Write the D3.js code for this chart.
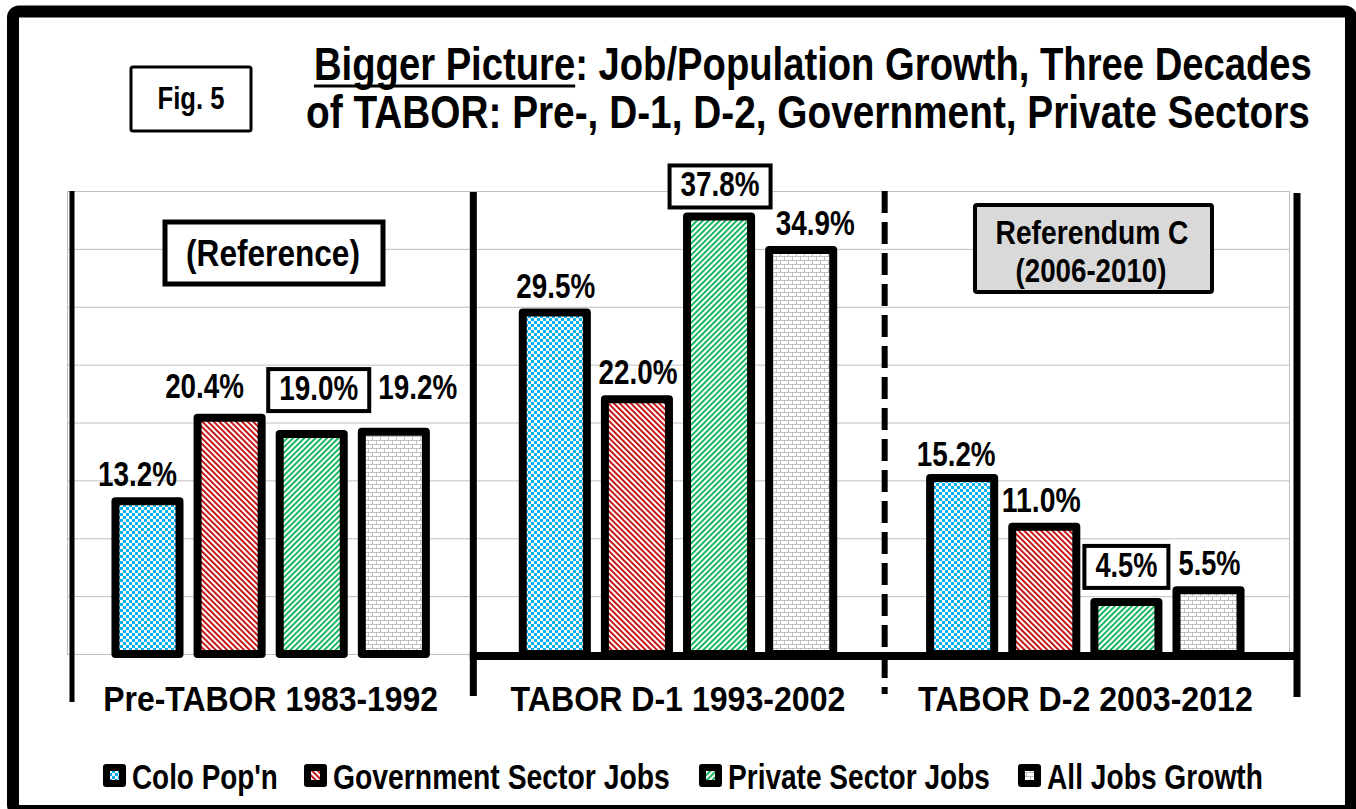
<!DOCTYPE html>
<html>
<head>
<meta charset="utf-8">
<title>Fig. 5 - Bigger Picture</title>
<script src="https://d3js.org/d3.v7.min.js"></script>
<style>
  html, body { margin: 0; padding: 0; background: #fff; }
  svg text { font-family: "Liberation Sans", Arial, sans-serif; font-weight: bold; fill: #000; }
</style>
</head>
<body>
<svg width="1356" height="809"></svg>
<script>
// ---- data ----
var groups = ["Pre-TABOR 1983-1992", "TABOR D-1 1993-2002", "TABOR D-2 2003-2012"];
var series = ["Colo Pop'n", "Government Sector Jobs", "Private Sector Jobs", "All Jobs Growth"];
var coloPop = [13.2, 29.5, 15.2];
var govJobs = [20.4, 22.0, 11.0];
var privJobs = [19.0, 37.8, 4.5];
var allJobs = [19.2, 34.9, 5.5];
var yTicks = [0, 5, 10, 15, 20, 25, 30, 35, 40];

// label nudges (Excel labels were hand placed)
var labelDx = [[-10, -25, 7, 24], [1, 1, 1, 14], [-6, -3, 0, 1]];
var labelDy = [[0, -5, -19, -18], [0, 0, -5, 0], [3, 0, -10, 0]];

var values = [coloPop, govJobs, privJobs, allJobs];
var rows = [];
groups.forEach(function (g, gi) {
    series.forEach(function (s, si) {
        rows.push({group: g, gi: gi, series: s, si: si, value: values[si][gi]});
    });
});

var svg = d3.select("svg");
var plotL = 67, plotR = 1289, plotT = 191, plotB = 654;

var x0 = d3.scaleBand().domain(groups).range([plotL, plotR]).padding(0);
var x1 = d3.scaleBand().domain(series).range([0, x0.bandwidth()])
    .paddingInner(0.22).paddingOuter(0.59);
var y = d3.scaleLinear().domain([0, 40]).range([plotB, plotT]);

// the original uses a narrow bold face: squeeze text horizontally to a width
function fit(sel, w) {
    sel.each(function (d, i) {
        var target = typeof w === "function" ? w(d, i) : w;
        var t = d3.select(this);
        var nat = this.getComputedTextLength();
        var s = nat > target ? target / nat : 1;
        var tx = +t.attr("x"), ty = +t.attr("y");
        t.attr("x", 0).attr("y", 0)
            .attr("transform", "translate(" + tx + "," + ty + ") scale(" + s + ",1)");
        this.__scale = s;
        this.__x = tx;
    });
    return sel;
}

// ---- patterns ----
var defs = svg.append("defs");
var colors = ["#00b0f0", "#c00000", "#00b050", "#bfbfbf"];

var p0 = defs.append("pattern").attr("id", "pat0").attr("patternUnits", "userSpaceOnUse")
    .attr("width", 6).attr("height", 6);
p0.append("rect").attr("width", 6).attr("height", 6).attr("fill", colors[0]);
p0.append("rect").attr("x", 0).attr("y", 0).attr("width", 3).attr("height", 3).attr("fill", "#fff");
p0.append("rect").attr("x", 3).attr("y", 3).attr("width", 3).attr("height", 3).attr("fill", "#fff");

function stripes(id, color, angle) {
    var p = defs.append("pattern").attr("id", id).attr("patternUnits", "userSpaceOnUse")
        .attr("width", 4).attr("height", 4)
        .attr("patternTransform", "rotate(" + angle + ")");
    p.append("rect").attr("width", 4).attr("height", 4).attr("fill", "#fff");
    p.append("rect").attr("width", 1.8).attr("height", 4).attr("fill", color);
}
stripes("pat1", colors[1], -45);
stripes("pat2", colors[2], 45);

var p3 = defs.append("pattern").attr("id", "pat3").attr("patternUnits", "userSpaceOnUse")
    .attr("width", 8).attr("height", 8);
p3.append("rect").attr("width", 8).attr("height", 8).attr("fill", "#fff");
p3.append("path")
    .attr("d", "M0,0.5H8M0,4.5H8M0.5,0V4.5M4.5,4.5V8")
    .attr("stroke", colors[3]).attr("stroke-width", 1).attr("fill", "none");

// ---- outer frame ----
svg.append("rect")
    .attr("x", 13).attr("y", 11.5).attr("width", 1338).attr("height", 799.5)
    .attr("rx", 6).attr("fill", "#fff").attr("stroke", "#000").attr("stroke-width", 12);

// ---- title ----
var t1 = svg.append("text").attr("x", 314).attr("y", 80).style("font-size", "47px")
    .text("Bigger Picture: Job/Population Growth, Three Decades");
fit(t1, 998);
var tn = t1.node();
var ul0 = tn.__x + tn.getStartPositionOfChar(0).x * tn.__scale;
var ul1 = tn.__x + tn.getEndPositionOfChar(13).x * tn.__scale;
svg.append("line").attr("x1", ul0).attr("x2", ul1).attr("y1", 86).attr("y2", 86)
    .attr("stroke", "#000").attr("stroke-width", 3);

fit(svg.append("text").attr("x", 306).attr("y", 128).style("font-size", "46px")
    .text("of TABOR: Pre-, D-1, D-2, Government, Private Sectors"), 1004);

// Fig. 5 box
svg.append("rect").attr("x", 131).attr("y", 67).attr("width", 120).attr("height", 64)
    .attr("rx", 2).attr("fill", "#fff").attr("stroke", "#000").attr("stroke-width", 3);
fit(svg.append("text").attr("x", 191).attr("y", 109).attr("text-anchor", "middle")
    .style("font-size", "32px").text("Fig. 5"), 67);

// ---- plot area grid ----
var grid = svg.append("g");
grid.selectAll("line.h").data(yTicks).enter().append("line")
    .attr("x1", plotL).attr("x2", plotR)
    .attr("y1", function (d) { return y(d) + 0.5; }).attr("y2", function (d) { return y(d) + 0.5; })
    .attr("stroke", "#bfbfbf").attr("stroke-width", 1);
grid.selectAll("line.v").data([plotL, plotR]).enter().append("line")
    .attr("x1", function (d) { return d + 0.5; }).attr("x2", function (d) { return d + 0.5; })
    .attr("y1", y(40)).attr("y2", y(0))
    .attr("stroke", "#bfbfbf").attr("stroke-width", 1);

// annotation boxes in plot
svg.append("rect").attr("x", 165).attr("y", 222).attr("width", 218).attr("height", 62)
    .attr("fill", "#fff").attr("stroke", "#000").attr("stroke-width", 5);
fit(svg.append("text").attr("x", 273).attr("y", 266).attr("text-anchor", "middle")
    .style("font-size", "37px").text("(Reference)"), 174);

svg.append("rect").attr("x", 975).attr("y", 205).attr("width", 237).attr("height", 87)
    .attr("rx", 2).attr("fill", "#d9d9d9").attr("stroke", "#000").attr("stroke-width", 4);
fit(svg.append("text").attr("x", 1092).attr("y", 244).attr("text-anchor", "middle")
    .style("font-size", "34px").text("Referendum C"), 193);
fit(svg.append("text").attr("x", 1091).attr("y", 282).attr("text-anchor", "middle")
    .style("font-size", "34px").text("(2006-2010)"), 151);

// ---- bars ----
svg.append("g").selectAll("rect").data(rows).enter().append("rect")
    .attr("x", function (d) { return x0(d.group) + x1(d.series); })
    .attr("y", function (d) { return y(d.value); })
    .attr("width", x1.bandwidth())
    .attr("height", function (d) { return y(0) - y(d.value); })
    .attr("fill", function (d) { return "url(#pat" + d.si + ")"; })
    .attr("stroke", "#000").attr("stroke-width", 8).attr("stroke-linejoin", "round");

// ---- separators / axis lines ----
var lines = svg.append("g").attr("stroke", "#000");
lines.append("line").attr("x1", plotL + 5).attr("x2", plotL + 5).attr("y1", plotT).attr("y2", 702)
    .attr("stroke-width", 5);
var xm = x0(groups[1]);
lines.append("line").attr("x1", xm - 1).attr("x2", xm - 1).attr("y1", plotT + 1).attr("y2", 696)
    .attr("stroke-width", 7);
var xd = x0(groups[2]);
lines.append("line").attr("x1", xd + 3).attr("x2", xd + 3).attr("y1", plotT).attr("y2", 694)
    .attr("stroke-width", 6).attr("stroke-dasharray", "22,9");
lines.append("line").attr("x1", plotR + 8).attr("x2", plotR + 8).attr("y1", plotT + 2).attr("y2", 697)
    .attr("stroke-width", 7);
lines.append("line").attr("x1", xm - 4.5).attr("x2", plotR + 11).attr("y1", plotB + 2).attr("y2", plotB + 2)
    .attr("stroke-width", 8);

// ---- value labels ----
var labels = svg.append("g");
rows.forEach(function (d) {
    var cx = x0(d.group) + x1(d.series) + x1.bandwidth() / 2 + labelDx[d.gi][d.si];
    var by = y(d.value) - 15 + labelDy[d.gi][d.si];
    var box = d.si === 2 ? labels.append("rect") : null;
    var txt = labels.append("text").attr("x", cx).attr("y", by).attr("text-anchor", "middle")
        .style("font-size", "36px").text(d.value.toFixed(1) + "%");
    var target = d.value < 10 ? 62 : 79;
    var w = Math.min(txt.node().getComputedTextLength(), target);
    fit(txt, target);
    if (box) {
        box.attr("x", cx - w / 2 - 11).attr("y", by - 31)
            .attr("width", w + 22).attr("height", 42)
            .attr("fill", "#fff").attr("stroke", "#000").attr("stroke-width", 4);
    }
});

// ---- category labels ----
fit(svg.append("g").selectAll("text").data(groups).enter().append("text")
    .attr("x", function (d) { return x0(d) + x0.bandwidth() / 2; })
    .attr("y", 711).attr("text-anchor", "middle")
    .style("font-size", "35px")
    .text(function (d) { return d; }), 335);

// ---- legend ----
var legX = [103, 304, 699, 1018];
var legW = [146, 337, 262, 216];
var leg = svg.append("g").selectAll("g").data(series).enter().append("g")
    .attr("transform", function (d, i) { return "translate(" + legX[i] + ",764)"; });
leg.append("rect").attr("width", 23).attr("height", 23).attr("rx", 3).attr("fill", "#000");
leg.append("rect").attr("x", 7).attr("y", 7).attr("width", 9).attr("height", 9)
    .attr("fill", function (d, i) { return "url(#pat" + i + ")"; });
fit(leg.append("text").attr("x", 29).attr("y", 25)
    .style("font-size", "36px")
    .text(function (d) { return d; }), function (d, i) { return legW[i]; });
</script>
</body>
</html>
